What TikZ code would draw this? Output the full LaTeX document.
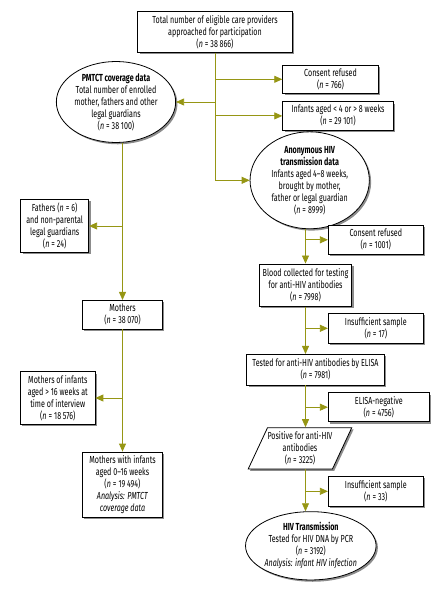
\documentclass[tikz,border=0pt]{standalone}
\usepackage{fontspec}
\setmainfont[FakeStretch=0.7]{Fira Sans}
\usetikzlibrary{arrows.meta, shapes.geometric, shadows}
\definecolor{olivline}{RGB}{150,150,20}
\newcommand{\nn}[1]{(\textit{n}\kern2pt=\kern2pt#1)}

\begin{document}
\begin{tikzpicture}[x=1pt, y=-1pt,
		box/.style={draw, thick, fill=white, align=center, inner sep=0pt, font=\fontsize{10.2}{12}\selectfont,
			drop shadow={shadow xshift=1.8pt, shadow yshift=-1.8pt, fill=black!45, opacity=1}},
		oval/.style={box, ellipse},
		slanted/.style={box, trapezium, trapezium left angle=60, trapezium right angle=120, trapezium stretches=true},
		flow/.style={draw=olivline, line width=0.8pt},
		arr/.style={flow, -{Triangle[length=8pt, width=7pt, fill=olivline]}}
		]
		\useasboundingbox (0,0) rectangle (439,591);
		
		% ---- NODES ----
		\node[box, minimum width=154.6pt, minimum height=40.6pt] (top) at (215, 32)
			{Total number of eligible care providers\\approached for participation\\\nn{38\,866}};
		\node[box, minimum width=95.6pt, minimum height=28pt] (consA) at (330.5, 79.3)
			{Consent refused\\\nn{766}};
		\node[box, minimum width=110.6pt, minimum height=28.3pt] (ageout) at (338, 115.9)
			{Infants aged < 4 or > 8 weeks\\\nn{29\,101}};
		\node[oval, minimum width=119.3pt, minimum height=67.4pt] (pmtct) at (116, 102)
			{\textbf{PMTCT coverage data}\\Total number of enrolled\\mother, fathers and other\\legal guardians\\\nn{38\,100}};
		\node[oval, minimum width=119.3pt, minimum height=80.7pt] (anon) at (309.7, 180.3)
			{\textbf{Anonymous HIV}\\\textbf{transmission data}\\Infants aged 4--8 weeks,\\brought by mother,\\father or legal guardian\\\nn{8999}};
		
		% left column
		\node[box, minimum width=68pt, minimum height=53.3pt] (fathers) at (54.7, 226)
			{Fathers \nn{6}\\and non-parental\\legal guardians\\\nn{24}};
		\node[box, minimum width=80pt, minimum height=28.7pt] (mothers) at (122.5, 314.7)
			{Mothers\\\nn{38\,070}};
		\node[box, minimum width=74.3pt, minimum height=52.6pt] (older) at (57.8, 398)
			{Mothers of infants\\aged > 16 weeks at\\time of interview\\\nn{18\,576}};
		\node[box, minimum width=80pt, minimum height=65pt] (mwi) at (122.5, 484.5)
			{Mothers with infants\\aged 0--16 weeks\\\nn{19\,494}\\\textit{Analysis: PMTCT}\\\textit{coverage data}};
		
		% right column
		\node[box, minimum width=95pt, minimum height=28.3pt] (consB) at (375.8, 239.8)
			{Consent refused\\\nn{1001}};
		\node[box, minimum width=92.4pt, minimum height=42.7pt] (blood) at (305.5, 285.3)
			{Blood collected for testing\\for anti-HIV antibodies\\\nn{7998}};
		\node[box, minimum width=95pt, minimum height=30pt] (insA) at (375.8, 328.3)
			{Insufficient sample\\\nn{17}};
		\node[box, minimum width=137.6pt, minimum height=30.7pt] (elisa) at (315.5, 369.7)
			{Tested for anti-HIV antibodies by ELISA\\\nn{7981}};
		\node[box, minimum width=101pt, minimum height=29pt] (eneg) at (378.8, 407.2)
			{ELISA-negative\\\nn{4756}};
		\node[slanted, minimum width=91.7pt, minimum height=41.3pt] (pos) at (300, 448.3)
			{Positive for anti-HIV\\antibodies\\\nn{3225}};
		\node[box, minimum width=95pt, minimum height=29.3pt] (insB) at (375.8, 491.3)
			{Insufficient sample\\\nn{33}};
		\node[oval, minimum width=125pt, minimum height=68.3pt] (hiv) at (310.8, 545.8)
			{\textbf{HIV Transmission}\\Tested for HIV DNA by PCR\\\nn{3192}\\\textit{Analysis: infant HIV infection}};
		
		% ---- ARROWS ----
		\draw[arr] (top.south) |- (anon.west);
		\draw[arr] (top.south |- consA.west) -- (consA.west);
		\draw[arr] (top.south |- ageout.west) -- (ageout.west);
		\draw[arr] (top.south |- pmtct.east) -- (pmtct.east);
		
		\draw[arr] (pmtct.south -| mothers.north) -- (mothers.north);
		\draw[arr] (mothers.north |- fathers.east) -- (fathers.east);
		\draw[arr] (mothers.south) -- (mwi.north);
		\draw[arr] (mothers.south |- older.east) -- (older.east);
		
		\draw[arr] (anon.south -| blood.north) -- (blood.north);
		\draw[arr] (blood.north |- consB.west) -- (consB.west);
		\draw[arr] (blood.south) -- (blood.south |- elisa.north);
		\draw[arr] (blood.south |- insA.west) -- (insA.west);
		\draw[arr] (blood.south |- elisa.south) -- (blood.south |- pos.north);
		\draw[arr] (blood.south |- eneg.west) -- (eneg.west);
		\draw[arr] (blood.south |- pos.south) -- (blood.south |- hiv.north);
		\draw[arr] (blood.south |- insB.west) -- (insB.west);
		
	\end{tikzpicture}
\end{document}
